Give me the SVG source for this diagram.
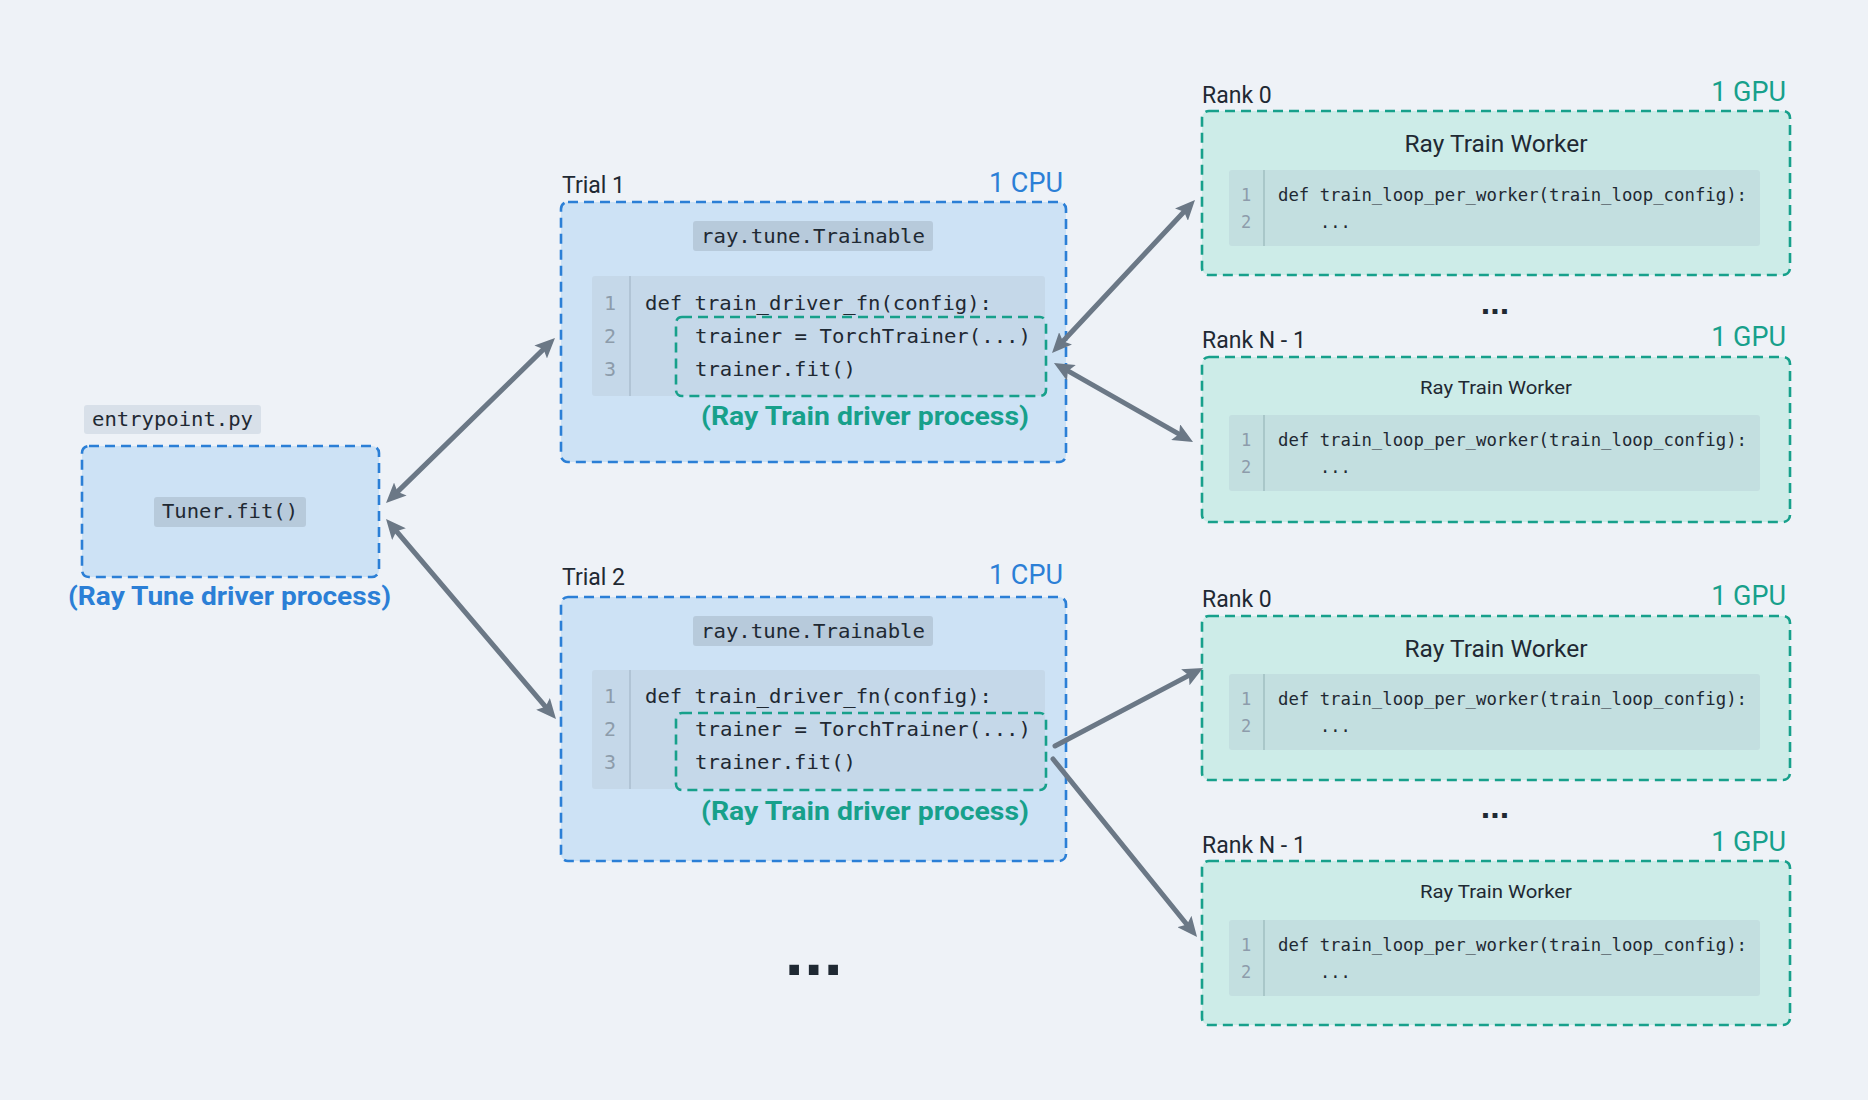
<svg xmlns="http://www.w3.org/2000/svg" width="1868" height="1100" viewBox="0 0 1868 1100">
<defs>
<style>
.lbl{font-family:Roboto,"Liberation Sans",sans-serif;fill:#1f2933}
.bold{font-family:Roboto,"Liberation Sans",sans-serif;font-weight:bold}
.dots{font-family:"Liberation Sans",Arial,sans-serif;font-weight:bold;fill:#1f2933;text-anchor:middle}
.mono{font-family:"DejaVu Sans Mono","Liberation Mono",monospace;fill:#1f2933}
.ln{font-family:"DejaVu Sans Mono","Liberation Mono",monospace;fill:#8d9cab;text-anchor:middle}
.blue{fill:#2b7fd6}
.teal{fill:#17a08b}
.tbox{fill:#cde2f5;stroke:#2b7fd6;stroke-width:2.6;stroke-dasharray:10 6}
.gbox{fill:#cdece8;stroke:#17a08b;stroke-width:2.6;stroke-dasharray:10 6}
.gin{fill:none;stroke:#17a08b;stroke-width:2.6;stroke-dasharray:10 6}
.tag{fill:#b7cadb}
.code1{fill:#c5d8e9}
.code2{fill:#c3dfe0}
.div1{stroke:#b1c4d5;stroke-width:2}
.div2{stroke:#a9c7c9;stroke-width:2}
.arr{stroke:#6b7886;stroke-width:5;fill:none;stroke-linecap:round}
</style>
<marker id="ah" viewBox="0 0 20 18" markerWidth="20" markerHeight="18" refX="8" refY="9" orient="auto-start-reverse" markerUnits="userSpaceOnUse">
<path d="M0,0 L20,9 L0,18 L4,9 z" fill="#6b7886"/>
</marker>
</defs>
<rect x="0" y="0" width="1868" height="1100" fill="#eef2f7"/>

<g id="entrypoint">
<rect x="84" y="405" width="177" height="29" rx="3" fill="#d8e0e9"/>
<text class="mono" x="172.5" y="426" font-size="20" text-anchor="middle" textLength="161" lengthAdjust="spacingAndGlyphs">entrypoint.py</text>
<rect class="tbox" x="82" y="446" width="297" height="131" rx="7"/>
<rect class="tag" x="154" y="497" width="152" height="30" rx="3"/>
<text class="mono" x="230" y="518" font-size="20" text-anchor="middle" textLength="136" lengthAdjust="spacingAndGlyphs">Tuner.fit()</text>
<text class="bold blue" x="229.5" y="605" font-size="26" text-anchor="middle" textLength="323" lengthAdjust="spacingAndGlyphs">(Ray Tune driver process)</text>
</g>

<g id="trial1">
<text class="lbl" x="562" y="193" font-size="23">Trial 1</text>
<text class="lbl blue" x="1063" y="192" font-size="27" text-anchor="end">1 CPU</text>
<rect class="tbox" x="561" y="202" width="505" height="260" rx="7"/>
<rect class="tag" x="693" y="221" width="240" height="30" rx="3"/>
<text class="mono" x="813" y="243" font-size="20" text-anchor="middle" textLength="224" lengthAdjust="spacingAndGlyphs">ray.tune.Trainable</text>
<rect class="code1" x="592" y="276" width="453" height="120" rx="3"/>
<line class="div1" x1="630" y1="276" x2="630" y2="396"/>
<text class="ln" x="610" y="310" font-size="20">1</text>
<text class="ln" x="610" y="343" font-size="20">2</text>
<text class="ln" x="610" y="376" font-size="20">3</text>
<text class="mono" x="645" y="310" font-size="20" textLength="347" lengthAdjust="spacingAndGlyphs">def train_driver_fn(config):</text>
<text class="mono" x="695" y="343" font-size="20" textLength="336" lengthAdjust="spacingAndGlyphs">trainer = TorchTrainer(...)</text>
<text class="mono" x="695" y="376" font-size="20" textLength="161" lengthAdjust="spacingAndGlyphs">trainer.fit()</text>
<rect class="gin" x="676" y="317" width="370" height="79" rx="6"/>
<text class="bold teal" x="865" y="425" font-size="26" text-anchor="middle" textLength="328" lengthAdjust="spacingAndGlyphs">(Ray Train driver process)</text>
</g>

<g id="trial2">
<text class="lbl" x="562" y="585" font-size="23">Trial 2</text>
<text class="lbl blue" x="1063" y="584" font-size="27" text-anchor="end">1 CPU</text>
<rect class="tbox" x="561" y="597" width="505" height="264" rx="7"/>
<rect class="tag" x="693" y="616" width="240" height="30" rx="3"/>
<text class="mono" x="813" y="638" font-size="20" text-anchor="middle" textLength="224" lengthAdjust="spacingAndGlyphs">ray.tune.Trainable</text>
<rect class="code1" x="592" y="670" width="453" height="119" rx="3"/>
<line class="div1" x1="630" y1="670" x2="630" y2="789"/>
<text class="ln" x="610" y="703" font-size="20">1</text>
<text class="ln" x="610" y="736" font-size="20">2</text>
<text class="ln" x="610" y="769" font-size="20">3</text>
<text class="mono" x="645" y="703" font-size="20" textLength="347" lengthAdjust="spacingAndGlyphs">def train_driver_fn(config):</text>
<text class="mono" x="695" y="736" font-size="20" textLength="336" lengthAdjust="spacingAndGlyphs">trainer = TorchTrainer(...)</text>
<text class="mono" x="695" y="769" font-size="20" textLength="161" lengthAdjust="spacingAndGlyphs">trainer.fit()</text>
<rect class="gin" x="676" y="713" width="370" height="77" rx="6"/>
<text class="bold teal" x="865" y="820" font-size="26" text-anchor="middle" textLength="328" lengthAdjust="spacingAndGlyphs">(Ray Train driver process)</text>
</g>

<g id="trial-more">
<text class="dots" x="814" y="975" font-size="68" letter-spacing="0.6">...</text>
</g>

<g id="t1-rank0">
<text class="lbl" x="1202" y="103" font-size="23">Rank 0</text>
<text class="lbl teal" x="1786" y="101" font-size="27" text-anchor="end">1 GPU</text>
<rect class="gbox" x="1202" y="111" width="588" height="164" rx="7"/>
<text class="lbl" x="1496" y="152" font-size="23" text-anchor="middle" textLength="183" lengthAdjust="spacingAndGlyphs">Ray Train Worker</text>
<rect class="code2" x="1229" y="170" width="531" height="76" rx="3"/>
<line class="div2" x1="1264" y1="170" x2="1264" y2="246"/>
<text class="ln" x="1246" y="201" font-size="17">1</text>
<text class="ln" x="1246" y="228" font-size="17">2</text>
<text class="mono" x="1278" y="201" font-size="17" textLength="469" lengthAdjust="spacingAndGlyphs">def train_loop_per_worker(train_loop_config):</text>
<text class="mono" x="1320" y="228" font-size="17">...</text>
</g>

<text class="dots" x="1495" y="314" font-size="34">...</text>

<g id="t1-rankn">
<text class="lbl" x="1202" y="348" font-size="23">Rank N - 1</text>
<text class="lbl teal" x="1786" y="346" font-size="27" text-anchor="end">1 GPU</text>
<rect class="gbox" x="1202" y="357" width="588" height="165" rx="7"/>
<text class="lbl" x="1496" y="394" font-size="19" text-anchor="middle" textLength="152" lengthAdjust="spacingAndGlyphs">Ray Train Worker</text>
<rect class="code2" x="1229" y="415" width="531" height="76" rx="3"/>
<line class="div2" x1="1264" y1="415" x2="1264" y2="491"/>
<text class="ln" x="1246" y="446" font-size="17">1</text>
<text class="ln" x="1246" y="473" font-size="17">2</text>
<text class="mono" x="1278" y="446" font-size="17" textLength="469" lengthAdjust="spacingAndGlyphs">def train_loop_per_worker(train_loop_config):</text>
<text class="mono" x="1320" y="473" font-size="17">...</text>
</g>

<g id="t2-rank0">
<text class="lbl" x="1202" y="607" font-size="23">Rank 0</text>
<text class="lbl teal" x="1786" y="605" font-size="27" text-anchor="end">1 GPU</text>
<rect class="gbox" x="1202" y="616" width="588" height="164" rx="7"/>
<text class="lbl" x="1496" y="657" font-size="23" text-anchor="middle" textLength="183" lengthAdjust="spacingAndGlyphs">Ray Train Worker</text>
<rect class="code2" x="1229" y="674" width="531" height="76" rx="3"/>
<line class="div2" x1="1264" y1="674" x2="1264" y2="750"/>
<text class="ln" x="1246" y="705" font-size="17">1</text>
<text class="ln" x="1246" y="732" font-size="17">2</text>
<text class="mono" x="1278" y="705" font-size="17" textLength="469" lengthAdjust="spacingAndGlyphs">def train_loop_per_worker(train_loop_config):</text>
<text class="mono" x="1320" y="732" font-size="17">...</text>
</g>

<text class="dots" x="1495" y="818" font-size="34">...</text>

<g id="t2-rankn">
<text class="lbl" x="1202" y="853" font-size="23">Rank N - 1</text>
<text class="lbl teal" x="1786" y="851" font-size="27" text-anchor="end">1 GPU</text>
<rect class="gbox" x="1202" y="861" width="588" height="164" rx="7"/>
<text class="lbl" x="1496" y="898" font-size="19" text-anchor="middle" textLength="152" lengthAdjust="spacingAndGlyphs">Ray Train Worker</text>
<rect class="code2" x="1229" y="920" width="531" height="76" rx="3"/>
<line class="div2" x1="1264" y1="920" x2="1264" y2="996"/>
<text class="ln" x="1246" y="951" font-size="17">1</text>
<text class="ln" x="1246" y="978" font-size="17">2</text>
<text class="mono" x="1278" y="951" font-size="17" textLength="469" lengthAdjust="spacingAndGlyphs">def train_loop_per_worker(train_loop_config):</text>
<text class="mono" x="1320" y="978" font-size="17">...</text>
</g>

<g id="connectors">
<line class="arr" x1="394.6" y1="494.6" x2="546.4" y2="346.4" marker-start="url(#ah)" marker-end="url(#ah)"/>
<line class="arr" x1="393.8" y1="528.1" x2="548.2" y2="709.9" marker-start="url(#ah)" marker-end="url(#ah)"/>
<line class="arr" x1="1060.2" y1="344.2" x2="1186.8" y2="208.8" marker-start="url(#ah)" marker-end="url(#ah)"/>
<line class="arr" x1="1064.4" y1="368.9" x2="1182.6" y2="436.1" marker-start="url(#ah)" marker-end="url(#ah)"/>
<line class="arr" x1="1055" y1="746" x2="1192.4" y2="673.6" marker-end="url(#ah)"/>
<line class="arr" x1="1053" y1="759" x2="1189.5" y2="927.7" marker-end="url(#ah)"/>
</g>
</svg>
